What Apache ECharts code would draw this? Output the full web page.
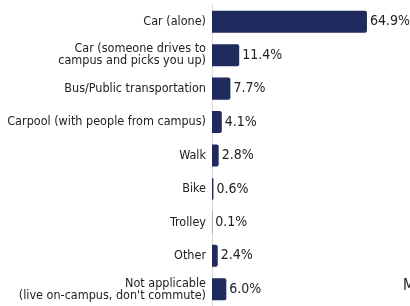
<!DOCTYPE html>
<html>
<head>
<meta charset="utf-8">
<script src="https://cdn.jsdelivr.net/npm/echarts@6/dist/echarts.min.js"></script>
<style>
  html, body { margin: 0; padding: 0; background: #fff; }
  #chart { width: 410px; height: 306px; }
</style>
</head>
<body>
<div id="chart"></div>
<script>
// categories, top to bottom
const categories = [
  'Car (alone)',
  'Car (someone drives to\ncampus and picks you up)',
  'Bus/Public transportation',
  'Carpool (with people from campus)',
  'Walk',
  'Bike',
  'Trolley',
  'Other',
  'Not applicable\n(live on-campus, don\'t commute)'
];
const shares = [64.9, 11.4, 7.7, 4.1, 2.8, 0.6, 0.1, 2.4, 6.0];

const font = '"DejaVu Sans Condensed", "Liberation Sans Narrow", sans-serif';
const myChart = echarts.init(document.getElementById('chart'));

const option = {
  animation: false,
  grid: { left: 212, right: 7, top: 5, bottom: 0, outerBoundsMode: 'none', containLabel: false },
  xAxis: {
    type: 'value',
    min: 0,
    max: 80,
    show: false
  },
  yAxis: {
    type: 'category',
    inverse: true,
    data: categories,
    axisTick: { show: false },
    axisLine: { show: true, lineStyle: { color: '#d9d9d9', width: 1 } },
    axisLabel: {
      color: '#222',
      fontFamily: font,
      fontSize: 12.5,
      lineHeight: 12,
      margin: 6
    }
  },
  series: [{
    type: 'bar',
    data: shares,
    barCategoryGap: '34%',
    itemStyle: { color: '#1f2a5e', borderRadius: [0, 2, 2, 0] },
    label: {
      show: true,
      position: 'right',
      distance: 3,
      color: '#222',
      fontFamily: font,
      fontSize: 14,
      formatter: p => p.value.toFixed(1) + '%'
    }
  }],
  graphic: [{
    type: 'text',
    left: 403,
    top: 279,
    style: { text: 'M', fill: '#222', font: '15px ' + font }
  }]
};

myChart.setOption(option);
</script>
</body>
</html>
